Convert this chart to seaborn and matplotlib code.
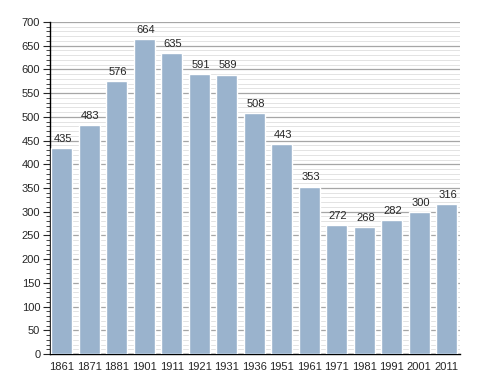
import numpy as np
import pandas as pd
import matplotlib
matplotlib.use("Agg")
import matplotlib.pyplot as plt
import seaborn as sns
from matplotlib.ticker import MultipleLocator

years = ["1861", "1871", "1881", "1901", "1911", "1921", "1931", "1936",
         "1951", "1961", "1971", "1981", "1991", "2001", "2011"]
population = [435, 483, 576, 664, 635, 591, 589, 508, 443, 353, 272, 268, 282, 300, 316]


def main():
    df = pd.DataFrame({"year": years, "population": population})

    sns.set_style("white")
    plt.rcParams["font.family"] = ["Liberation Sans", "DejaVu Sans"]

    fig = plt.figure(figsize=(4.88, 3.73), dpi=100)
    ax = fig.add_axes([50 / 488, 19 / 373, 410 / 488, 332 / 373])

    sns.barplot(data=df, x="year", y="population", color="#9ab3cd",
                saturation=1, width=0.76, ax=ax, zorder=3)

    ax.set_ylim(0, 700)
    ax.set_xlim(-0.42, 14.48)
    ax.yaxis.set_major_locator(MultipleLocator(50))
    ax.yaxis.set_minor_locator(MultipleLocator(10))
    ax.grid(axis="y", which="major", color="#a6a6a6", linewidth=0.9, zorder=0)
    ax.grid(axis="y", which="minor", color="#dedede", linewidth=0.6, zorder=0)
    ax.set_axisbelow(True)

    for side in ["top", "right"]:
        ax.spines[side].set_visible(False)
    ax.spines["left"].set_color("black")
    ax.spines["bottom"].set_color("black")
    ax.spines["left"].set_linewidth(1.0)
    ax.spines["bottom"].set_linewidth(1.0)

    ax.tick_params(axis="y", which="major", left=True, length=5, width=0.8,
                   labelsize=8, pad=2)
    ax.tick_params(axis="y", which="minor", left=True, length=3, width=0.6)
    ax.tick_params(axis="x", bottom=False, labelsize=8, pad=2)
    ax.set_xlabel("")
    ax.set_ylabel("")

    for i, v in enumerate(population):
        ax.annotate(str(v), (i, v), xytext=(1, 3), textcoords="offset points",
                    ha="center", va="bottom", fontsize=8)

    fig.savefig("out.png", dpi=100)
    plt.close(fig)


if __name__ == "__main__":
    main()
